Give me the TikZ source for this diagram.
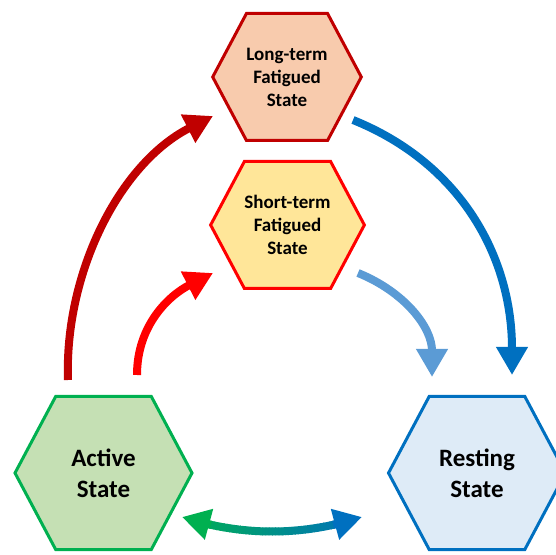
\documentclass[tikz,border=0pt]{standalone}
\usepackage{fontspec}
\setmainfont{Carlito}
\usetikzlibrary{calc,shapes.symbols,arrows.meta}

\definecolor{longfill}{HTML}{F8CBAD}
\definecolor{shortfill}{HTML}{FFE699}
\definecolor{activefill}{HTML}{C5E0B4}
\definecolor{restfill}{HTML}{DEEBF7}
\definecolor{darkred}{HTML}{C00000}
\definecolor{brightred}{HTML}{FF0000}
\definecolor{greenline}{HTML}{00B050}
\definecolor{blueline}{HTML}{0070C0}
\definecolor{lightblue}{HTML}{5B9BD5}

\tikzset{
  hexa/.style={signal, signal to=east and west, signal pointer angle=124,
    line width=3pt, align=center, inner sep=0pt,
    font=\bfseries\fontsize{19}{23}\selectfont},
  bighexa/.style={hexa, minimum width=177pt, minimum height=153pt,
    font=\bfseries\fontsize{25}{31}\selectfont},
  fatarrow/.style={line width=8pt, -{Triangle[length=28pt,width=30pt]}}
}

\begin{document}
\begin{tikzpicture}[x=1pt,y=1pt]
  \useasboundingbox (0,0) rectangle (556,554);
  % the four states
  \node [hexa, draw=darkred, fill=longfill, minimum width=146pt, minimum height=127pt] (long) at (287, 477) {Long-term\\Fatigued\\State};
  \node [hexa, draw=brightred, fill=shortfill, minimum width=148pt, minimum height=127pt] (short) at (287.5, 329) {Short-term\\Fatigued\\State};
  \node [bighexa, draw=greenline, fill=activefill] (active) at (103.5, 81) {Active\\State};
  \node [bighexa, draw=blueline, fill=restfill] (rest) at (477, 81) {Resting\\State};

  % transitions
  \draw [fatarrow, darkred] ([shift={(-35.5,93)}]active.center) to [out=92, in=207, looseness=0.9] ([shift={(-74,-39)}]long.center);
  \draw [fatarrow, brightred] ([shift={(33.5,98)}]active.center) to [out=90, in=207] ([shift={(-74.5,-48)}]short.center);
  \draw [fatarrow, blueline] ([shift={(66,-43)}]long.center) to [out=-22, in=90] ([shift={(35,98)}]rest.center);
  \draw [fatarrow, lightblue] ([shift={(70.5,-48)}]short.center) to [out=-22, in=90] ([shift={(-45,96)}]rest.center);

  % two-way arrow, green to blue
  \coordinate (bl) at ([shift={(78.5,-44)}]active.center);
  \coordinate (br) at ([shift={(-115,-44)}]rest.center);
  \coordinate (bm) at ($(bl)!0.5!(br)+(0,-29)$);
  \foreach \i in {0,...,39} {
    \pgfmathsetmacro\ta{0.14+0.72*\i/40}
    \pgfmathsetmacro\tb{0.14+0.72*(\i+1)/40+0.004}
    \pgfmathsetmacro\mix{100*\ta}
    \draw [line width=8pt, blueline!\mix!greenline]
      ($($(bl)!\ta!(bm)$)!\ta!($(bm)!\ta!(br)$)$) -- ($($(bl)!\tb!(bm)$)!\tb!($(bm)!\tb!(br)$)$);
  }
  \draw [fatarrow, greenline] ($($(bl)!0.16!(bm)$)!0.16!($(bm)!0.16!(br)$)$) -- (bl);
  \draw [fatarrow, blueline] ($($(bl)!0.84!(bm)$)!0.84!($(bm)!0.84!(br)$)$) -- (br);
\end{tikzpicture}
\end{document}
